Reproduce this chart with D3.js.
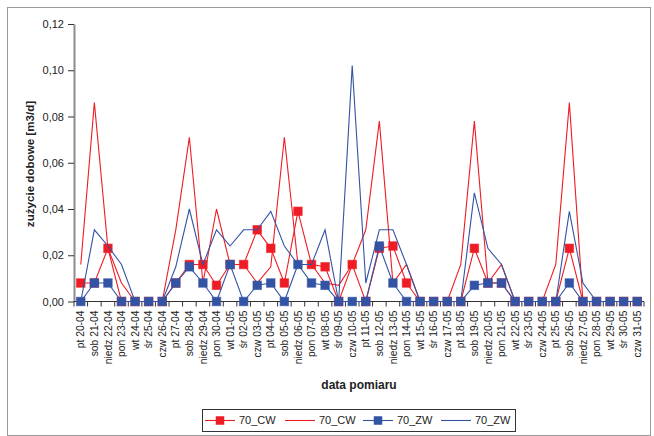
<!DOCTYPE html>
<html>
<head>
<meta charset="utf-8">
<script src="https://cdn.jsdelivr.net/npm/d3@7/dist/d3.min.js"></script>
<style>
  html, body { margin: 0; padding: 0; background: #fff; }
  svg { display: block; font-family: "Liberation Sans", Arial, sans-serif; }
</style>
</head>
<body>
<svg id="chart" width="654" height="436"></svg>
<script>
// Daily consumption, 20 April – 31 May
const days = [
  "pt 20-04", "sob 21-04", "niedz 22-04", "pon 23-04", "wt 24-04", "śr 25-04", "czw 26-04",
  "pt 27-04", "sob 28-04", "niedz 29-04", "pon 30-04", "wt 01-05", "śr 02-05", "czw 03-05",
  "pt 04-05", "sob 05-05", "niedz 06-05", "pon 07-05", "wt 08-05", "śr 09-05", "czw 10-05",
  "pt 11-05", "sob 12-05", "niedz 13-05", "pon 14-05", "wt 15-05", "śr 16-05", "czw 17-05",
  "pt 18-05", "sob 19-05", "niedz 20-05", "pon 21-05", "wt 22-05", "śr 23-05", "czw 24-05",
  "pt 25-05", "sob 26-05", "niedz 27-05", "pon 28-05", "wt 29-05", "śr 30-05", "czw 31-05"
];

// 70_CW, series with markers
const cwMarked = [
  0.008, 0.008, 0.023, 0, 0, 0, 0,
  0.008, 0.016, 0.016, 0.007, 0.016, 0.016, 0.031,
  0.023, 0.008, 0.039, 0.016, 0.015, 0, 0.016,
  0, 0.023, 0.024, 0.008, 0, 0, 0,
  0, 0.023, 0.008, 0.008, 0, 0, 0,
  0, 0.023, 0, 0, 0, 0, 0
];

// 70_CW, plain line
const cwLine = [
  0.016, 0.086, 0.023, 0.008, 0, 0, 0,
  0.031, 0.071, 0.008, 0.040, 0.016, 0.016, 0.008,
  0.015, 0.071, 0.016, 0.016, 0.008, 0.007, 0.016,
  0.031, 0.078, 0.008, 0.016, 0, 0, 0,
  0.016, 0.078, 0.008, 0.016, 0, 0, 0,
  0.016, 0.086, 0, 0, 0, 0, 0
];

// 70_ZW, series with markers
const zwMarked = [
  0, 0.008, 0.008, 0, 0, 0, 0,
  0.008, 0.015, 0.008, 0, 0.016, 0, 0.007,
  0.008, 0, 0.016, 0.008, 0.007, 0, 0,
  0, 0.024, 0.008, 0, 0, 0, 0,
  0, 0.007, 0.008, 0.008, 0, 0, 0,
  0, 0.008, 0, 0, 0, 0, 0
];

// 70_ZW, plain line
const zwLine = [
  0, 0.031, 0.024, 0.016, 0, 0, 0,
  0.015, 0.040, 0.016, 0.031, 0.024, 0.031, 0.031,
  0.039, 0.024, 0.016, 0.016, 0.031, 0, 0.102,
  0.008, 0.031, 0.031, 0.016, 0, 0, 0,
  0, 0.047, 0.023, 0.016, 0, 0, 0,
  0, 0.039, 0.008, 0, 0, 0, 0
];

const yTicks = [0, 0.02, 0.04, 0.06, 0.08, 0.10, 0.12];
const seriesNames = ["70_CW", "70_CW", "70_ZW", "70_ZW"];

const RED = "#ee1c24";
const BLUE = "#3353a4";

const svg = d3.select("#chart");

// outer frame
svg.append("rect")
  .attr("x", 7.5).attr("y", 7.5).attr("width", 643).attr("height", 428)
  .attr("fill", "none").attr("stroke", "#9a9a9a").attr("stroke-width", 1);

const plot = { left: 74, right: 644, top: 24, bottom: 301.5 };

const x = d3.scaleBand().domain(days).range([plot.left, plot.right]).padding(0);
const cx = d => x(d) + x.bandwidth() / 2;
const y = d3.scaleLinear().domain([0, 0.12]).range([plot.bottom, plot.top]);

const fmt = v => d3.format(".2f")(v).replace(".", ",");

// y axis
const yAxis = svg.append("g")
  .attr("transform", `translate(${plot.left},0)`)
  .call(d3.axisLeft(y).tickValues(yTicks).tickFormat(fmt).tickSize(6).tickSizeOuter(0).tickPadding(4));
yAxis.select(".domain").attr("stroke", "#8c8c8c").attr("stroke-width", 2);
yAxis.selectAll(".tick line").attr("stroke", "#333");
yAxis.selectAll(".tick text")
  .attr("font-size", 11).attr("fill", "#222")
  .attr("font-family", "Liberation Sans, Arial, sans-serif");

// x axis: line, ticks between categories, rotated labels
const xg = svg.append("g");
xg.append("line")
  .attr("x1", plot.left).attr("x2", plot.right)
  .attr("y1", plot.bottom).attr("y2", plot.bottom)
  .attr("stroke", "#333").attr("stroke-width", 1);
const bounds = days.map(d => x(d)).concat([x(days[days.length - 1]) + x.bandwidth()]);
xg.selectAll("line.tk").data(bounds).join("line")
  .attr("class", "tk")
  .attr("x1", d => d).attr("x2", d => d)
  .attr("y1", plot.bottom).attr("y2", plot.bottom + 5)
  .attr("stroke", "#333").attr("stroke-width", 1);
xg.selectAll("text").data(days).join("text")
  .attr("transform", d => `translate(${cx(d)},${plot.bottom + 9}) rotate(-90)`)
  .attr("text-anchor", "end")
  .attr("dy", "0.35em")
  .attr("font-size", 10.3)
  .attr("fill", "#222")
  .text(d => d);

// axis titles
svg.append("text")
  .attr("x", 359).attr("y", 389)
  .attr("text-anchor", "middle")
  .attr("font-size", 12).attr("font-weight", "bold").attr("fill", "#222")
  .text("data pomiaru");
svg.append("text")
  .attr("transform", "translate(34,164) rotate(-90)")
  .attr("text-anchor", "middle")
  .attr("font-size", 11.6).attr("font-weight", "bold").attr("fill", "#222")
  .text("zużycie dobowe [m3/d]");

// series
const line = d3.line().x((v, i) => cx(days[i])).y(v => y(v));
const series = [
  { values: cwMarked, color: RED, marker: true },
  { values: cwLine, color: RED, marker: false },
  { values: zwMarked, color: BLUE, marker: true },
  { values: zwLine, color: BLUE, marker: false }
];
const MS = 8.5;

series.forEach(s => {
  const g = svg.append("g");
  g.append("path")
    .attr("d", line(s.values))
    .attr("fill", "none")
    .attr("stroke", s.color)
    .attr("stroke-width", 1.1)
    .attr("stroke-linejoin", "miter");
  if (s.marker) {
    g.selectAll("rect").data(s.values).join("rect")
      .attr("x", (v, i) => cx(days[i]) - MS / 2)
      .attr("y", v => y(v) - MS / 2)
      .attr("width", MS).attr("height", MS)
      .attr("fill", s.color)
      .attr("stroke", s.color).attr("stroke-opacity", 0.6).attr("stroke-width", 1);
  }
});

// legend
const lg = svg.append("g");
lg.append("rect")
  .attr("x", 202.5).attr("y", 409.5).attr("width", 313).attr("height", 22)
  .attr("fill", "#fff").attr("stroke", "#333").attr("stroke-width", 1);
const legendX = [205, 285, 363, 441];
series.forEach((s, i) => {
  const x0 = legendX[i];
  const ly = 420.5;
  lg.append("line")
    .attr("x1", x0).attr("x2", x0 + 30).attr("y1", ly).attr("y2", ly)
    .attr("stroke", s.color).attr("stroke-width", 1.1);
  if (s.marker) {
    lg.append("rect")
      .attr("x", x0 + 15 - MS / 2).attr("y", ly - MS / 2)
      .attr("width", MS).attr("height", MS)
      .attr("fill", s.color);
  }
  lg.append("text")
    .attr("x", x0 + 34).attr("y", ly).attr("dy", "0.35em")
    .attr("font-size", 11).attr("fill", "#222")
    .text(seriesNames[i]);
});
</script>
</body>
</html>
